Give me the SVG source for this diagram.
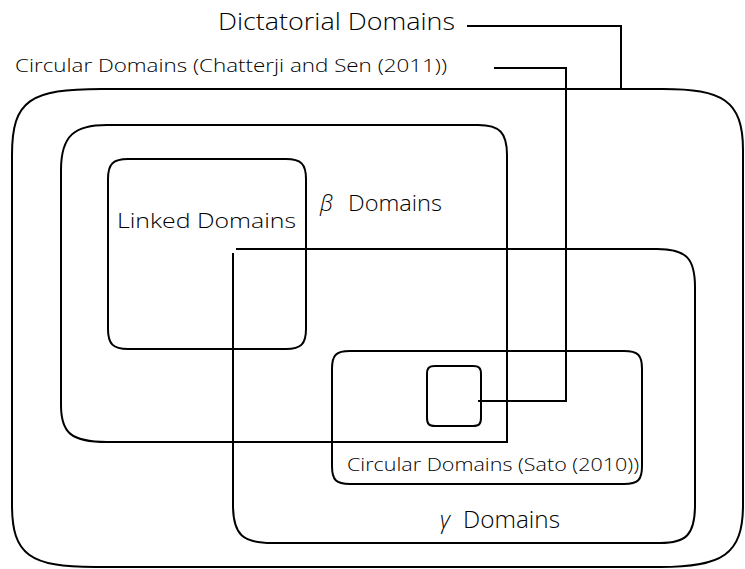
<svg xmlns="http://www.w3.org/2000/svg" width="745" height="569" viewBox="0 0 745 569">
  <style>
    .box { fill: none; stroke: #000; stroke-width: 2; }
    .wire { fill: none; stroke: #000; stroke-width: 2; }
    .lbl { font-family: "Open Sans", Lato, "Liberation Sans", sans-serif; font-weight: 300; fill: #000; }
    .math { font-family: "Open Sans", "Liberation Serif", serif; font-style: italic; font-weight: 300; }
  </style>
  <rect width="745" height="569" fill="#fff"/>

  <g id="dictatorial">
    <path class="box" d="M102 89 L663 89 C722 89 743 100 743 150 L743 505 C743 555 722 567 660 567 L95 567 C30 567 12 555 12 505 L12 155 C12 100 30 89 102 89 Z"/>
    <text class="lbl" x="218" y="30" font-size="23" textLength="237" lengthAdjust="spacingAndGlyphs">Dictatorial Domains</text>
  </g>

  <g id="beta">
    <path class="box" d="M107 125 L478 125 C500 125 507 133 507 155 L507 442 L107 442 C70 442 61 432 61 405 L61 170 C61 135 75 125 107 125 Z"/>
    <text class="lbl" x="320" y="211" font-size="22"><tspan class="math">β</tspan><tspan x="348" textLength="94" lengthAdjust="spacingAndGlyphs">Domains</tspan></text>
  </g>

  <g id="linked">
    <path class="box" d="M128 159 L286 159 C301 159 306 164 306 179 L306 329 C306 344 301 349 286 349 L128 349 C113 349 108 344 108 329 L108 179 C108 164 113 159 128 159 Z"/>
    <text class="lbl" x="117" y="228" font-size="21" textLength="179" lengthAdjust="spacingAndGlyphs">Linked Domains</text>
  </g>

  <g id="gamma">
    <path class="box" d="M236 249 L657 249 C686 249 695 258 695 287 L695 505 C695 535 686 543 660 543 L272 543 C243 543 233 535 233 505 L233 253"/>
    <text class="lbl" x="440" y="528" font-size="23"><tspan class="math">γ</tspan><tspan x="463" textLength="97" lengthAdjust="spacingAndGlyphs">Domains</tspan></text>
  </g>

  <g id="sato">
    <path class="box" d="M350 351 L624 351 C638 351 642 355 642 369 L642 466 C642 480 638 484 624 484 L350 484 C336 484 332 480 332 466 L332 369 C332 355 336 351 350 351 Z"/>
    <text class="lbl" x="347" y="471" font-size="18" textLength="292" lengthAdjust="spacingAndGlyphs">Circular Domains (Sato (2010))</text>
  </g>

  <g id="chatterji-sen">
    <path class="box" d="M435 366 L473 366 C479 366 481 368 481 374 L481 418 C481 424 479 426 473 426 L435 426 C429 426 427 424 427 418 L427 374 C427 368 429 366 435 366 Z"/>
    <text class="lbl" x="15" y="72" font-size="18" textLength="432" lengthAdjust="spacingAndGlyphs">Circular Domains (Chatterji and Sen (2011))</text>
  </g>

  <g id="connectors">
    <path class="wire" d="M467 26 L621 26 L621 89"/>
    <path class="wire" d="M494 68 L566 68 L566 401 L478 401"/>
  </g>
</svg>
